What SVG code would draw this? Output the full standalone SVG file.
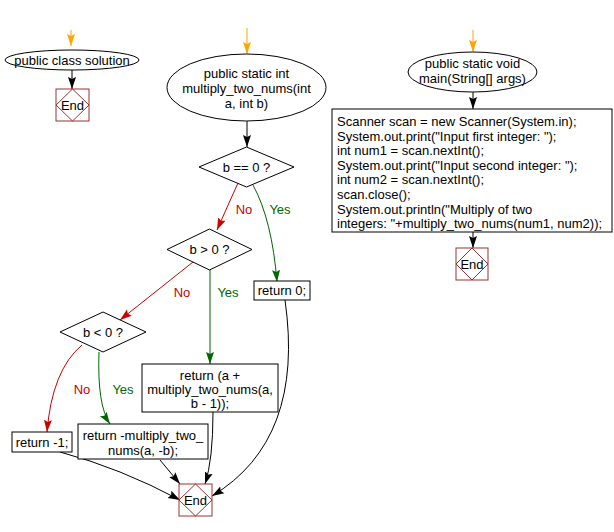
<svg xmlns="http://www.w3.org/2000/svg" width="614" height="532" viewBox="0 0 614 532">
<defs>
<style>
text{font-family:"Liberation Sans",Arial,sans-serif;font-size:13px;fill:#000}
.c{text-anchor:middle}
.shape{fill:#fff;stroke:#000;stroke-width:1}
.endr{fill:#fff;stroke:#993333;stroke-width:1}
.endd{fill:none;stroke:#993333;stroke-width:1}
.k{fill:none;stroke:#000;stroke-width:1}
.r{fill:none;stroke:#cc0000;stroke-width:1}
.g{fill:none;stroke:#006600;stroke-width:1}
.o{fill:none;stroke:#ffa500;stroke-width:1}
.rt{fill:#cc0000}
.gt{fill:#006600}
</style>
<marker id="ak" markerUnits="userSpaceOnUse" markerWidth="14" markerHeight="10" refX="12" refY="5" orient="auto"><path d="M0,1 L12,5 L0,9 L2,5 z" fill="#000"/></marker>
<marker id="ar" markerUnits="userSpaceOnUse" markerWidth="14" markerHeight="10" refX="12" refY="5" orient="auto"><path d="M0,1 L12,5 L0,9 L2,5 z" fill="#cc0000"/></marker>
<marker id="ag" markerUnits="userSpaceOnUse" markerWidth="14" markerHeight="10" refX="12" refY="5" orient="auto"><path d="M0,1 L12,5 L0,9 L2,5 z" fill="#006600"/></marker>
<marker id="ao" markerUnits="userSpaceOnUse" markerWidth="14" markerHeight="10" refX="12" refY="5" orient="auto"><path d="M0,1 L12,5 L0,9 L2,5 z" fill="#ffa500"/></marker>
</defs>

<g id="connectors">
<path class="o" d="M71,30 L71,46" marker-end="url(#ao)"/>
<path class="k" d="M72,70 L72,89" marker-end="url(#ak)"/>
<path class="o" d="M247,28 L247,54" marker-end="url(#ao)"/>
<path class="k" d="M247,121 L247,147" marker-end="url(#ak)"/>
<path class="o" d="M473,30 L473,52" marker-end="url(#ao)"/>
<path class="k" d="M473,92 L473,109" marker-end="url(#ak)"/>
<path class="k" d="M473,232 L473,248" marker-end="url(#ak)"/>
<path class="r" d="M238,183 Q228,205 217,230" marker-end="url(#ar)"/>
<path class="g" d="M253,185 Q272,220 277,282" marker-end="url(#ag)"/>
<path class="r" d="M193,262 L120,320" marker-end="url(#ar)"/>
<path class="g" d="M210,270 L210,364" marker-end="url(#ag)"/>
<path class="r" d="M82,345 Q52,370 47,432" marker-end="url(#ar)"/>
<path class="g" d="M99,352 Q97,405 110,424" marker-end="url(#ag)"/>
<path class="k" d="M60,452 Q120,468 180,500" marker-end="url(#ak)"/>
<path class="k" d="M160,460 L180,484" marker-end="url(#ak)"/>
<path class="k" d="M213,412 Q213,460 205,484" marker-end="url(#ak)"/>
<path class="k" d="M285,300 Q305,440 212,496" marker-end="url(#ak)"/>
<text class="c rt" x="244" y="214">No</text>
<text class="c gt" x="280" y="214">Yes</text>
<text class="c rt" x="182" y="297">No</text>
<text class="c gt" x="228" y="297">Yes</text>
<text class="c rt" x="82" y="394">No</text>
<text class="c gt" x="123" y="394">Yes</text>
</g>

<g id="class-start">
<ellipse class="shape" cx="72" cy="60" rx="67" ry="10"/>
<text class="c" x="72" y="65">public class solution</text>
</g>
<g id="class-end">
<rect class="endr" x="56" y="89" width="33" height="32"/>
<path class="endd" d="M72.5,89 L89,105 L72.5,121 L56,105 z"/>
<text class="c" x="72.5" y="110">End</text>
</g>

<g id="multiply-start">
<ellipse class="shape" cx="246.5" cy="87.5" rx="79.5" ry="33.5"/>
<text class="c" x="246.5" y="78">public static int</text>
<text class="c" x="246.5" y="93">multiply_two_nums(int</text>
<text class="c" x="246.5" y="108">a, int b)</text>
</g>
<g id="cond-b-eq-0">
<path class="shape" d="M199,167 L246.5,147 L294,167 L246.5,187 z"/>
<text class="c" x="246.5" y="172">b == 0 ?</text>
</g>
<g id="cond-b-gt-0">
<path class="shape" d="M167,249.5 L209.5,229 L252,249.5 L209.5,270 z"/>
<text class="c" x="209.5" y="254">b &gt; 0 ?</text>
</g>
<g id="cond-b-lt-0">
<path class="shape" d="M60,332 L103,312 L146,332 L103,352 z"/>
<text class="c" x="103" y="337">b &lt; 0 ?</text>
</g>
<g id="return-0">
<rect class="shape" x="254" y="281" width="56" height="19"/>
<text class="c" x="282" y="295">return 0;</text>
</g>
<g id="return-recursive">
<rect class="shape" x="142" y="364" width="136" height="48"/>
<text class="c" x="210" y="380">return (a +</text>
<text class="c" x="210" y="394">multiply_two_nums(a,</text>
<text class="c" x="210" y="408">b - 1));</text>
</g>
<g id="return-neg-1">
<rect class="shape" x="12" y="432" width="60" height="20"/>
<text class="c" x="42" y="447">return -1;</text>
</g>
<g id="return-neg-multiply">
<rect class="shape" x="78" y="424" width="130" height="35"/>
<text class="c" x="143" y="440">return -multiply_two_</text>
<text class="c" x="143" y="455">nums(a, -b);</text>
</g>
<g id="multiply-end">
<rect class="endr" x="179" y="484" width="33" height="32"/>
<path class="endd" d="M195.5,484 L212,500 L195.5,516 L179,500 z"/>
<text class="c" x="195.5" y="505">End</text>
</g>

<g id="main-start">
<ellipse class="shape" cx="472.5" cy="72" rx="64.5" ry="20"/>
<text class="c" x="472.5" y="68">public static void</text>
<text class="c" x="472.5" y="83">main(String[] args)</text>
</g>
<g id="main-body">
<rect class="shape" x="332" y="109" width="280" height="123"/>
<text x="337" y="126">Scanner scan = new Scanner(System.in);</text>
<text x="337" y="140.6">System.out.print("Input first integer: ");</text>
<text x="337" y="155.2">int num1 = scan.nextInt();</text>
<text x="337" y="169.8">System.out.print("Input second integer: ");</text>
<text x="337" y="184.4">int num2 = scan.nextInt();</text>
<text x="337" y="199">scan.close();</text>
<text x="337" y="213.6">System.out.println("Multiply of two</text>
<text x="337" y="228.2">integers: "+multiply_two_nums(num1, num2));</text>
</g>
<g id="main-end">
<rect class="endr" x="456" y="248" width="32" height="32"/>
<path class="endd" d="M472,248 L488,264 L472,280 L456,264 z"/>
<text class="c" x="472" y="269">End</text>
</g>
</svg>
